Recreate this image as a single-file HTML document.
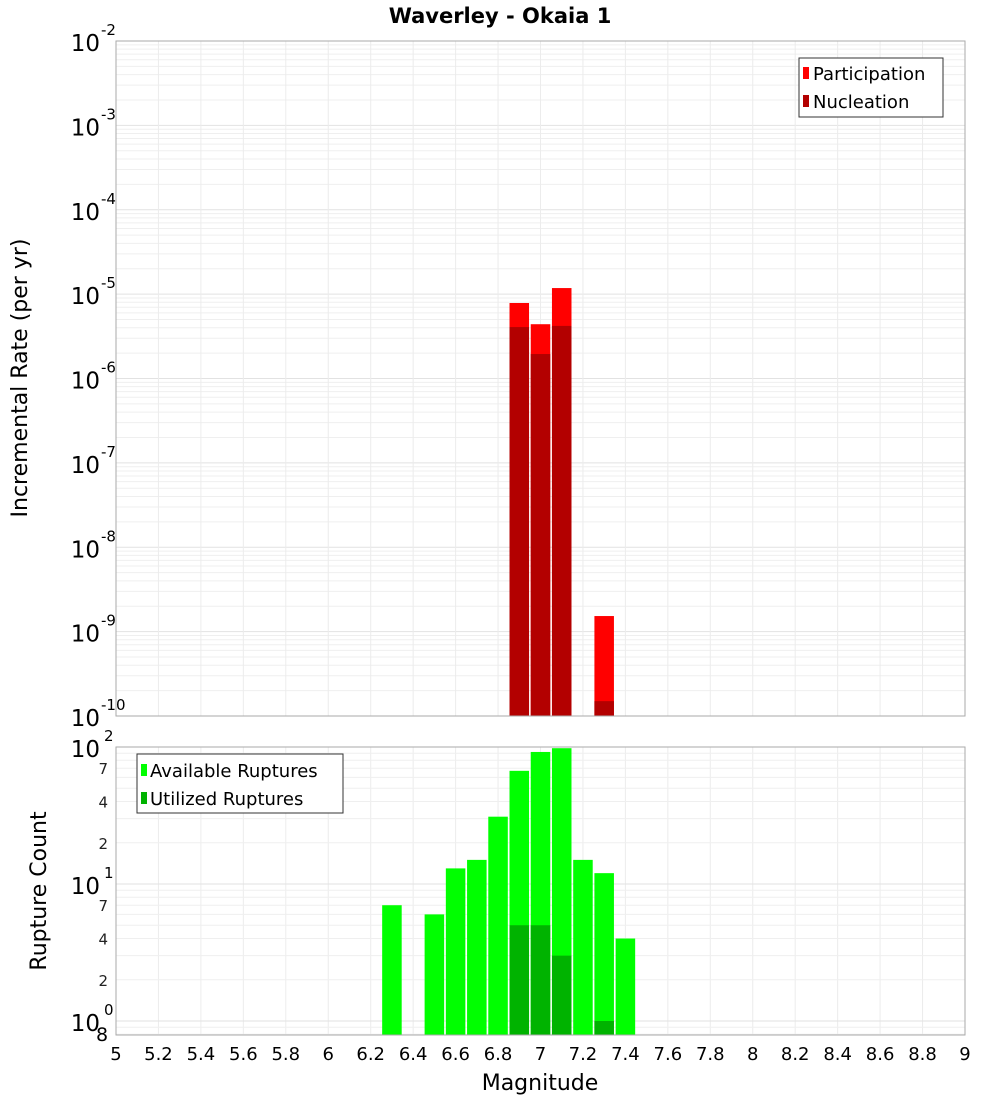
<!DOCTYPE html>
<html><head><meta charset="utf-8"><style>
html,body{margin:0;padding:0;background:#fff}
svg{display:block;font-family:"DejaVu Sans","Liberation Sans",sans-serif}
</style></head><body>
<svg id="chart" width="1000" height="1100" xmlns="http://www.w3.org/2000/svg">
<text x="500" y="23" text-anchor="middle" font-size="21" font-weight="bold">Waverley - Okaia 1</text>
<g id="topg"></g><g id="botg"></g>
</svg>
<script>
const mags=[6.9,7.0,7.1,7.3];
const participation=[7.85e-6,4.4e-6,1.18e-5,1.53e-9];
const nucleation=[4.07e-6,1.95e-6,4.2e-6,1.5e-10];
const rupMags=[6.3,6.5,6.6,6.7,6.8,6.9,7.0,7.1,7.2,7.3,7.4];
const available=[7,6,13,15,31,67,92,98,15,12,4];
const utilMags=[6.9,7.0,7.1,7.3];
const utilized=[5,5,3,1];
const xTicks=[5,5.2,5.4,5.6,5.8,6,6.2,6.4,6.6,6.8,7,7.2,7.4,7.6,7.8,8,8.2,8.4,8.6,8.8,9];
const topDecades=[-2,-3,-4,-5,-6,-7,-8,-9,-10];
const botDecades=[2,1,0];
const botMinor=[2,4,7];

const NS="http://www.w3.org/2000/svg";
const L=116,R=965;
const X=m=>L+(m-5)*(R-L)/4;
const T0=41,T1=716;
const yTop=v=>T0+(-2-Math.log10(v))*(T1-T0)/8;
const B0=747,BD=137;
const yBot=v=>B0+(2-Math.log10(v))*BD;
const B1=1035;
function mk(p,tag,a,name,txt){const e=document.createElementNS(NS,tag);for(const k in a)e.setAttribute(k,a[k]);


if(txt!==undefined)e.textContent=txt;p.appendChild(e);return e;}
const gTop=document.getElementById('topg'),gBot=document.getElementById('botg');
const bw=(R-L)/4*0.092;

mk(gTop,'rect',{x:L,y:T0,width:R-L,height:T1-T0,fill:'#fff'},'top-plot-area');
for(let d=-10;d<-2;d++){for(let k=1;k<10;k++){const y=yTop(k*Math.pow(10,d));if(y<T0)continue;
mk(gTop,'line',{x1:L,x2:R,y1:y,y2:y,stroke:k==1?'#e2e2e2':'#efefef','stroke-width':1},'top-grid-line');}}
xTicks.forEach(m=>{mk(gTop,'line',{x1:X(m),x2:X(m),y1:T0,y2:T1,stroke:'#ececec'},'top-x-grid');
mk(gBot,'line',{x1:X(m),x2:X(m),y1:B0,y2:B1,stroke:'#ececec'},'bot-x-grid');});
mags.forEach((m,i)=>{
const yp=yTop(participation[i]);mk(gTop,'rect',{x:X(m)-bw/2,y:yp,width:bw,height:T1-yp,fill:'#ff0000'},'participation-bar');
const yn=yTop(nucleation[i]);mk(gTop,'rect',{x:X(m)-bw/2,y:yn,width:bw,height:T1-yn,fill:'#b30000'},'nucleation-bar');});
mk(gTop,'rect',{x:L,y:T0,width:R-L,height:T1-T0,fill:'none',stroke:'#aaa'},'top-plot-border');
topDecades.forEach(d=>{const y=yTop(Math.pow(10,d));
mk(gTop,'text',{x:100,y:y+10,'font-size':23,'text-anchor':'end'},'top-y-tick-label','10');
mk(gTop,'text',{x:101,y:y-6,'font-size':15,'text-anchor':'start'},'top-y-tick-exp',String(d));});
mk(gTop,'text',{x:27,y:378,'font-size':22,'text-anchor':'middle',transform:'rotate(-90 27 378)'},'top-y-axis-title','Incremental Rate (per yr)');
mk(gTop,'rect',{x:799,y:58,width:144,height:59,fill:'#fff',stroke:'#333'},'top-legend');
mk(gTop,'rect',{x:803,y:67,width:6,height:12,fill:'#ff0000'},'legend-participation-swatch');
mk(gTop,'text',{x:813,y:80,'font-size':18},'legend-participation','Participation');
mk(gTop,'rect',{x:803,y:95,width:6,height:12,fill:'#b30000'},'legend-nucleation-swatch');
mk(gTop,'text',{x:813,y:108,'font-size':18},'legend-nucleation','Nucleation');

for(let d=-1;d<2;d++){for(let k=1;k<10;k++){const y=yBot(k*Math.pow(10,d));if(y<B0||y>B1)continue;
mk(gBot,'line',{x1:L,x2:R,y1:y,y2:y,stroke:k==1?'#e2e2e2':'#efefef'},'bot-grid-line');}}
rupMags.forEach((m,i)=>{const y=yBot(available[i]);
mk(gBot,'rect',{x:X(m)-bw/2,y:y,width:bw,height:B1-y,fill:'#00ff00'},'available-bar');});
utilMags.forEach((m,i)=>{const y=yBot(utilized[i]);
mk(gBot,'rect',{x:X(m)-bw/2,y:y,width:bw,height:B1-y,fill:'#00b300'},'utilized-bar');});
mk(gBot,'rect',{x:L,y:B0,width:R-L,height:B1-B0,fill:'none',stroke:'#aaa'},'bot-plot-border');
botDecades.forEach(d=>{const y=yBot(Math.pow(10,d));
mk(gBot,'text',{x:100,y:y+10,'font-size':23,'text-anchor':'end'},'bot-y-tick-label','10');
mk(gBot,'text',{x:104,y:y-6,'font-size':15},'bot-y-tick-exp',String(d));});
for(let d=0;d<2;d++)botMinor.forEach(k=>{const y=yBot(k*Math.pow(10,d));
mk(gBot,'text',{x:108,y:y+6,'font-size':15,'text-anchor':'end',fill:'#222'},'bot-y-minor-label',String(k));});
mk(gBot,'text',{x:102,y:1041,'font-size':19,'text-anchor':'middle'},'bot-y-minor-label','8');
mk(gBot,'text',{x:46,y:891,'font-size':22,'text-anchor':'middle',transform:'rotate(-90 46 891)'},'bot-y-axis-title','Rupture Count');
mk(gBot,'rect',{x:137,y:754,width:206,height:59,fill:'#fff',stroke:'#333'},'bot-legend');
mk(gBot,'rect',{x:141,y:764,width:6,height:12,fill:'#00ff00'},'legend-available-swatch');
mk(gBot,'text',{x:150,y:777,'font-size':18},'legend-available','Available Ruptures');
mk(gBot,'rect',{x:141,y:792,width:6,height:12,fill:'#00b300'},'legend-utilized-swatch');
mk(gBot,'text',{x:150,y:805,'font-size':18},'legend-utilized','Utilized Ruptures');
xTicks.forEach(m=>mk(gBot,'text',{x:X(m),y:1060,'font-size':18,'text-anchor':'middle'},'x-tick-label',String(m)));
mk(gBot,'text',{x:540,y:1090,'font-size':22,'text-anchor':'middle'},'x-axis-title','Magnitude');
</script>
</body></html>
